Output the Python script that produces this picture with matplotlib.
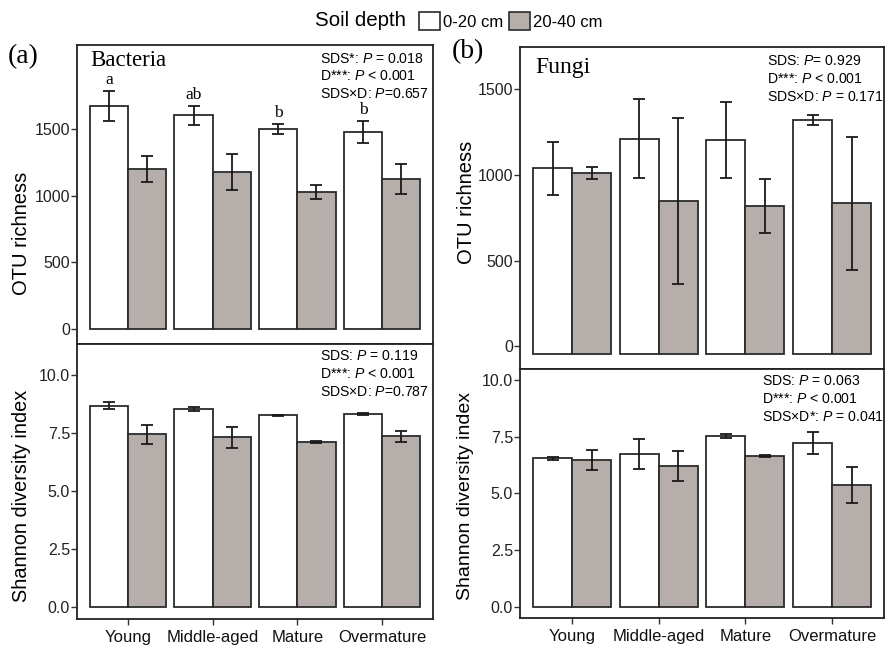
import matplotlib
matplotlib.use("Agg")
import matplotlib.pyplot as plt
from matplotlib.patches import Patch
import numpy as np

plt.rcParams['font.family'] = ['Liberation Sans', 'DejaVu Sans']
plt.rcParams['mathtext.fontset'] = 'custom'
plt.rcParams['mathtext.rm'] = 'Liberation Sans'
plt.rcParams['mathtext.it'] = 'Liberation Sans:italic'

categories = ["Young", "Middle-aged", "Mature", "Overmature"]
depths = ["0-20 cm", "20-40 cm"]

bac_otu_top = [1677, 1607, 1504, 1481]
bac_otu_top_err = [115, 70, 37, 85]
bac_otu_sub = [1203, 1183, 1030, 1128]
bac_otu_sub_err = [100, 135, 55, 110]
bac_letters = ["a", "ab", "b", "b"]

bac_sh_top = [8.68, 8.55, 8.27, 8.33]
bac_sh_top_err = [0.15, 0.10, 0.04, 0.06]
bac_sh_sub = [7.46, 7.33, 7.13, 7.37]
bac_sh_sub_err = [0.40, 0.45, 0.05, 0.24]

fun_otu_top = [1037, 1210, 1204, 1317]
fun_otu_top_err = [155, 230, 222, 29]
fun_otu_sub = [1009, 848, 817, 833]
fun_otu_sub_err = [35, 485, 157, 386]

fun_sh_top = [6.54, 6.74, 7.53, 7.20]
fun_sh_top_err = [0.08, 0.66, 0.10, 0.48]
fun_sh_sub = [6.45, 6.21, 6.64, 5.35]
fun_sh_sub_err = [0.44, 0.65, 0.05, 0.80]

ann_bac_otu = "SDS*: $\\it{P}$ = 0.018\nD***: $\\it{P}$ < 0.001\nSDS\u00d7D: $\\it{P}$=0.657"
ann_bac_sh = "SDS: $\\it{P}$ = 0.119\nD***: $\\it{P}$ < 0.001\nSDS\u00d7D: $\\it{P}$=0.787"
ann_fun_otu = "SDS: $\\it{P}$= 0.929\nD***: $\\it{P}$ < 0.001\nSDS\u00d7D: $\\it{P}$ = 0.171"
ann_fun_sh = "SDS: $\\it{P}$ = 0.063\nD***: $\\it{P}$ < $\\it{0.001}$\nSDS\u00d7D*: $\\it{P}$ = 0.041"

WHITE = "#ffffff"
GREY = "#b5aeaa"
EDGE = "#2b2b2b"
W, H = 885, 646

fig = plt.figure(figsize=(W / 100, H / 100), dpi=100)

def ax_px(x0, x1, y0, y1):
    return fig.add_axes([x0 / W, 1 - y1 / H, (x1 - x0) / W, (y1 - y0) / H])

ax_a1 = ax_px(77, 433, 45, 344)
ax_a2 = ax_px(77, 433, 344, 619)
ax_b1 = ax_px(520, 884, 47, 369)
ax_b2 = ax_px(520, 884, 369, 618)

x = np.arange(1, len(categories) + 1)
bw = 0.45

def draw(ax, top, top_err, sub, sub_err, ylim, yticks, ytl, base=0.0, xt=False):
    for vals, errs, col, off in [(top, top_err, WHITE, -bw / 2), (sub, sub_err, GREY, bw / 2)]:
        v = np.array(vals, dtype=float)
        ax.bar(x + off, v - base, bottom=base, width=bw, color=col, edgecolor=EDGE,
               linewidth=1.3, zorder=2)
        ax.errorbar(x + off, v, yerr=errs, fmt='none', ecolor="#1a1a1a", elinewidth=1.3,
                    capsize=4, capthick=1.3, zorder=3)
    ax.set_xlim(0.4, 4.6)
    ax.set_ylim(*ylim)
    ax.set_yticks(yticks)
    ax.set_yticklabels(ytl, fontsize=11.5, color="#222222")
    ax.tick_params(axis='y', length=4, width=1, color="#333333", pad=1)
    if xt:
        ax.set_xticks(x)
        ax.set_xticklabels(categories, fontsize=12, color="#111111")
        ax.tick_params(axis='x', length=4, width=1, color="#333333", pad=4)
    else:
        ax.set_xticks([])
    for s in ax.spines.values():
        s.set_linewidth(1.3)
        s.set_color("#222222")

draw(ax_a1, bac_otu_top, bac_otu_top_err, bac_otu_sub, bac_otu_sub_err,
     (-113, 2135), [0, 500, 1000, 1500], ["0", "500", "1000", "1500"])
draw(ax_a2, bac_sh_top, bac_sh_top_err, bac_sh_sub, bac_sh_sub_err,
     (-0.5, 11.35), [0, 2.5, 5, 7.5, 10], ["0.0", "2.5", "5.0", "7.5", "10.0"], xt=True)
draw(ax_b1, fun_otu_top, fun_otu_top_err, fun_otu_sub, fun_otu_sub_err,
     (-132, 1745), [0, 500, 1000, 1500], ["0", "500", "1000", "1500"], base=-45)
draw(ax_b2, fun_sh_top, fun_sh_top_err, fun_sh_sub, fun_sh_sub_err,
     (-0.5, 10.48), [0, 2.5, 5, 7.5, 10], ["0.0", "2.5", "5.0", "7.5", "10.0"], xt=True)

# significance letters
for xi, v, e, lab in zip(x - bw / 2, bac_otu_top, bac_otu_top_err, bac_letters):
    ax_a1.annotate(lab, (xi, v + e), xytext=(0, 2), textcoords='offset points',
                   ha='center', va='bottom', fontsize=12.5, family='Liberation Serif')

# y labels
fig.text(22 / W, 1 - 233 / H, "OTU richness", rotation=90, ha='center', va='center', fontsize=14.5)
fig.text(22 / W, 1 - 496 / H, "Shannon diversity index", rotation=90, ha='center', va='center', fontsize=14.3)
fig.text(466 / W, 1 - 202 / H, "OTU richness", rotation=90, ha='center', va='center', fontsize=14.5)
fig.text(466 / W, 1 - 496 / H, "Shannon diversity index", rotation=90, ha='center', va='center', fontsize=14)

# annotations
kw = dict(ha='left', va='top', fontsize=10.1, linespacing=1.35)
ax_a1.text(0.683, 0.978, ann_bac_otu, transform=ax_a1.transAxes, **kw)
ax_a2.text(0.683, 0.982, ann_bac_sh, transform=ax_a2.transAxes, **kw)
ax_b1.text(0.679, 0.978, ann_fun_otu, transform=ax_b1.transAxes, **kw)
ax_b2.text(0.666, 0.978, ann_fun_sh, transform=ax_b2.transAxes, **kw)

ax_a1.text(0.037, 0.983, "Bacteria", transform=ax_a1.transAxes, ha='left', va='top',
           fontsize=16.5, family='Liberation Serif')
ax_b1.text(0.041, 0.97, "Fungi", transform=ax_b1.transAxes, ha='left', va='top',
           fontsize=17, family='Liberation Serif')

fig.text(8 / W, 1 - 57 / H, "(a)", ha='left', va='center', fontsize=20, family='Liberation Serif')
fig.text(452 / W, 1 - 52 / H, "(b)", ha='left', va='center', fontsize=20, family='Liberation Serif')

# legend
fig.text(315 / W, 1 - 20 / H, "Soil depth", ha='left', va='center', fontsize=14.8)
handles = [Patch(facecolor=WHITE, edgecolor=EDGE, linewidth=1.2),
           Patch(facecolor=GREY, edgecolor=EDGE, linewidth=1.2)]
fig.legend(handles, depths, loc='center left', bbox_to_anchor=(419 / W, 1 - 21 / H),
           ncol=2, frameon=False, fontsize=12, handlelength=1.25, handleheight=1.25,
           handletextpad=0.2, columnspacing=0.35, borderpad=0, borderaxespad=0)

fig.savefig("out.png", dpi=100)
